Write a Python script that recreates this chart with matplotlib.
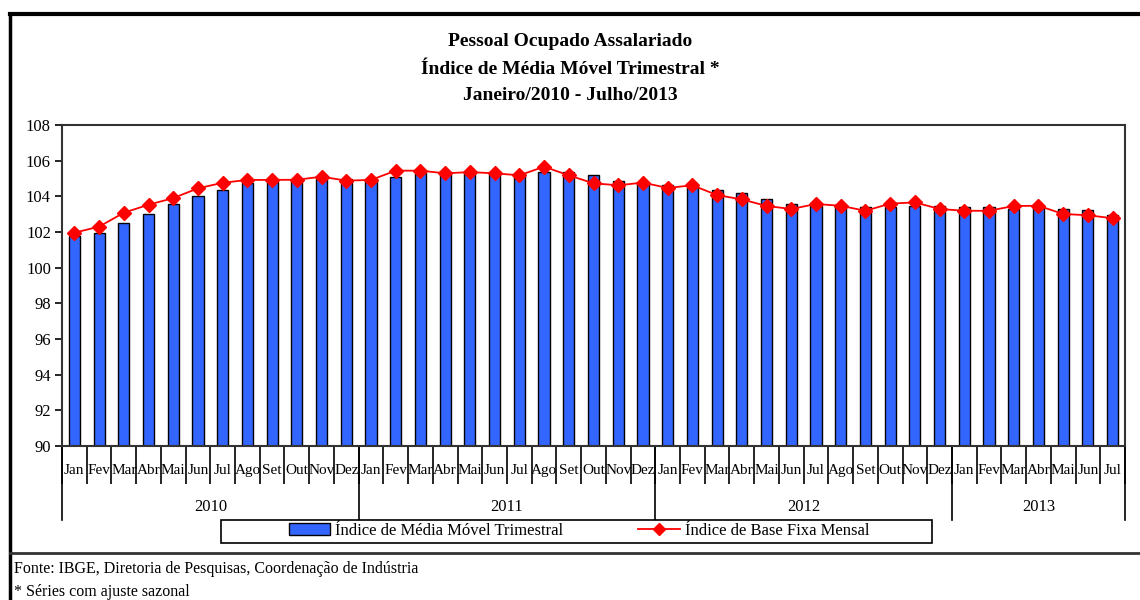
import matplotlib.pyplot as plt
from matplotlib.lines import Line2D
from matplotlib.patches import Patch, Rectangle

# Dados (jan/2010 a jul/2013)
meses = ['Jan', 'Fev', 'Mar', 'Abr', 'Mai', 'Jun', 'Jul', 'Ago', 'Set', 'Out', 'Nov', 'Dez']
anos = ['2010', '2011', '2012', '2013']
meses_por_ano = [12, 12, 12, 7]

media_movel = [
    101.75, 101.95, 102.5, 103.0, 103.55, 104.0, 104.35, 104.73, 104.82, 104.86, 105.0, 105.0,
    104.97, 105.1, 105.29, 105.38, 105.33, 105.29, 105.33, 105.38, 105.38, 105.2, 104.86, 104.73,
    104.65, 104.54, 104.35, 104.2, 103.83, 103.57, 103.47, 103.51, 103.38, 103.38, 103.46, 103.46,
    103.38, 103.38, 103.31, 103.46, 103.31, 103.23, 102.95,
]
base_fixa = [
    101.96, 102.3, 103.08, 103.53, 103.9, 104.45, 104.76, 104.92, 104.92, 104.93, 105.1, 104.88,
    104.92, 105.44, 105.44, 105.29, 105.36, 105.29, 105.18, 105.66, 105.18, 104.73, 104.62, 104.77,
    104.47, 104.62, 104.07, 103.83, 103.46, 103.29, 103.57, 103.47, 103.19, 103.59, 103.66, 103.29,
    103.19, 103.19, 103.46, 103.47, 103.01, 102.94, 102.77,
]

rotulos = []
for n in meses_por_ano:
    rotulos += meses[:n]
n = len(rotulos)
x = list(range(n))

fonte = 'Liberation Serif'
plt.rcParams['font.family'] = [fonte, 'DejaVu Serif']

fig = plt.figure(figsize=(11.4, 6), dpi=100)
ax = fig.add_axes([62 / 1140, 1 - 446 / 600, (1125 - 62) / 1140, (446 - 125) / 600])

# Barras e linha
ax.bar(x, [v - 90 for v in media_movel], bottom=90, width=0.45, color='#3366FF',
       edgecolor='black', linewidth=1, zorder=2)
ax.plot(x, base_fixa, color='red', lw=1.3, marker='D', markersize=7, zorder=3)

ax.set_xlim(-0.5, n - 0.5)
ax.set_ylim(90, 108)
ax.set_yticks(range(90, 109, 2))
ax.tick_params(axis='y', direction='out', length=5, width=1.2, labelsize=12, pad=3)
for s in ax.spines.values():
    s.set_color('#333333')
    s.set_linewidth(1.5)

# Eixo X: divisões entre meses e entre anos
ax.set_xticks([i - 0.5 for i in range(n + 1)])
ax.set_xticklabels([])
ax.tick_params(axis='x', direction='out', length=27, width=1.2, color='black')
trans = ax.get_xaxis_transform()
pos = 0
limites = [0]
for ano, k in zip(anos, meses_por_ano):
    ax.text(pos + (k - 1) / 2, -0.19, ano, transform=trans, ha='center', va='center',
            fontsize=12)
    pos += k
    limites.append(pos)
for b in limites:
    ax.plot([b - 0.5, b - 0.5], [0, -0.23], transform=trans, color='black', lw=1.2,
            clip_on=False)
for i, r in enumerate(rotulos):
    ax.text(i, -0.075, r, transform=trans, ha='center', va='center', fontsize=11)

# Título
fig.text(0.5, 1 - 42 / 600, 'Pessoal Ocupado Assalariado', ha='center', va='center',
         fontsize=14, fontweight='bold')
fig.text(0.5, 1 - 69 / 600, 'Índice de Média Móvel Trimestral *', ha='center', va='center',
         fontsize=14, fontweight='bold')
fig.text(0.5, 1 - 96 / 600, 'Janeiro/2010 - Julho/2013', ha='center', va='center',
         fontsize=14, fontweight='bold')

# Legenda (moldura desenhada à parte, mais larga que as entradas)
fig.add_artist(Rectangle((221 / 1140, 1 - 543 / 600), 711 / 1140, 23 / 600,
                         transform=fig.transFigure, facecolor='white', edgecolor='black',
                         lw=1.2))
handles = [Patch(facecolor='#3366FF', edgecolor='black', label='Índice de Média Móvel Trimestral'),
           Line2D([], [], color='red', marker='D', markersize=6, lw=1.3,
                  label='Índice de Base Fixa Mensal')]
leg = fig.legend(handles=handles, ncol=2, loc='center',
                 bbox_to_anchor=(579 / 1140, 1 - 531 / 600), fontsize=12, frameon=False,
                 borderpad=0.15, columnspacing=4.5, handlelength=2.5, handletextpad=0.3)

# Molduras e notas
fig.add_artist(Line2D([10 / 1140, 1], [1 - 14 / 600, 1 - 14 / 600], color='black', lw=3))
fig.add_artist(Line2D([10 / 1140, 10 / 1140], [0, 1 - 14 / 600], color='black', lw=2.5))
fig.add_artist(Line2D([10 / 1140, 1], [1 - 553 / 600, 1 - 553 / 600], color='#333333', lw=2))
fig.text(14 / 1140, 1 - 569 / 600, 'Fonte: IBGE, Diretoria de Pesquisas, Coordenação de Indústria',
         ha='left', va='center', fontsize=11.5)
fig.text(14 / 1140, 1 - 592 / 600, '* Séries com ajuste sazonal', ha='left', va='center',
         fontsize=11.5)

fig.savefig('out.png', dpi=100)
